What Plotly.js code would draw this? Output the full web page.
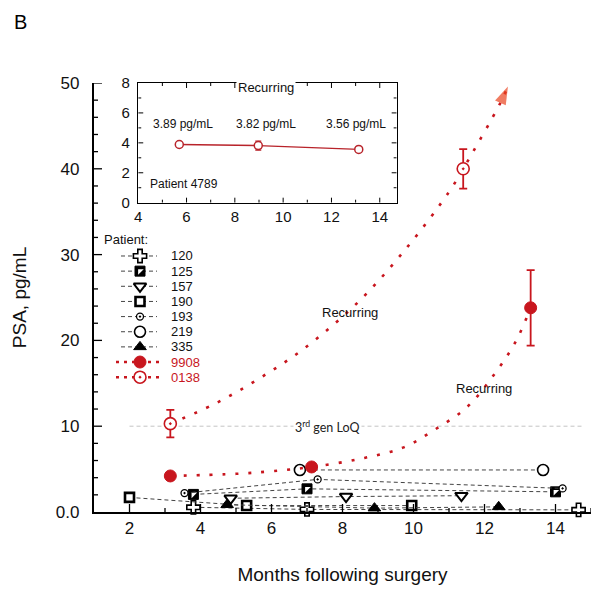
<!DOCTYPE html>
<html><head><meta charset="utf-8">
<script src="https://cdn.plot.ly/plotly-3.0.1.min.js"></script>
<style>html,body{margin:0;padding:0;background:#fff;}#chart{width:600px;height:593px;}</style>
</head><body><div id="chart"></div>
<script>
// ---------------- data ----------------
const patients = ['120', '125', '157', '190', '193', '219', '335', '9908', '0138'];

const p120_x = [3.8, 7.0, 14.65];   const p120_y = [0.55, 0.3, 0.25];
const p125_x = [3.8, 7.0, 14.0];    const p125_y = [2.05, 2.7, 2.35];
const p157_x = [4.85, 8.1, 11.35];  const p157_y = [1.6, 1.8, 1.9];
const p190_x = [2.0, 5.3, 9.95];    const p190_y = [1.7, 0.75, 0.75];
const p193_x = [3.55, 7.3, 14.2];   const p193_y = [2.2, 3.8, 2.75];
const p219_x = [6.8, 13.65];        const p219_y = [4.9, 4.9];
const p335_x = [4.75, 8.9, 12.4];   const p335_y = [0.85, 0.45, 0.6];
const p9908_x = [3.15, 7.13, 13.3]; const p9908_y = [4.2, 5.25, 23.8]; const p9908_err = [0, 0, 4.4];
const p0138_x = [3.15, 11.4];       const p0138_y = [10.3, 40.0];       const p0138_err = [1.6, 2.3];

// dotted "Recurring" trend curves
const trend9908_x = [3.15, 5.0, 6.0, 7.13, 8.5, 9.7, 10.6, 11.5, 12.25, 12.87, 13.3];
const trend9908_y = [4.2, 4.45, 4.75, 5.25, 6.2, 7.5, 9.6, 12.2, 15.9, 19.8, 23.8];
const trend0138_x = [3.15, 4.4, 5.63, 6.9, 8.45, 9.83, 11.0, 11.4, 12.45, 12.66];
const trend0138_y = [10.3, 12.6, 15.5, 19.0, 24.5, 30.9, 37.3, 40.0, 47.7, 49.6];

// inset: patient 4789
const inset_x = [5.7, 8.97, 13.13];
const inset_y = [3.89, 3.82, 3.56];
const inset_err = [0, 0.3, 0];
const inset_labels = ['3.89 pg/mL', '3.82 pg/mL', '3.56 pg/mL'];

const y_ticklabels = ['0.0', '10', '20', '30', '40', '50'];
const LoQ = 10;

// ---------------- styles ----------------
const FONT = 'Liberation Sans, Arial, Helvetica, sans-serif';
const RED = '#c8161e';
const DRED = '#b8232a';
const GREY = '#444';
const NB = '\u00a0';
const seriesX = {'120': p120_x, '125': p125_x, '157': p157_x, '190': p190_x, '193': p193_x, '219': p219_x, '335': p335_x};
const seriesY = {'120': p120_y, '125': p125_y, '157': p157_y, '190': p190_y, '193': p193_y, '219': p219_y, '335': p335_y};
const markerStyle = {
  '120': {symbol: 'cross', size: 11, color: '#fff', line: {color: '#000', width: 1.6}},
  '125': {symbol: 'square', size: 10, color: '#000', line: {color: '#000', width: 1}},
  '157': {symbol: 'triangle-down', size: 11, color: '#fff', line: {color: '#000', width: 2}},
  '190': {symbol: 'square', size: 9, color: '#fff', line: {color: '#000', width: 2.6}},
  '193': {symbol: 'circle-dot', size: 7, color: '#fff', line: {color: '#000', width: 1.3}},
  '219': {symbol: 'circle', size: 11, color: '#fff', line: {color: '#000', width: 1.6}},
  '335': {symbol: 'triangle-up', size: 11, color: '#000', line: {color: '#000', width: 1}},
  '9908': {symbol: 'circle', size: 12, color: RED, line: {color: RED, width: 1}},
  '0138': {symbol: 'circle-dot', size: 12, color: '#fff', line: {color: RED, width: 1.6}}
};
const halfMarker = {symbol: 'triangle-nw', size: 6.2, color: '#fff', line: {width: 0}};
const blackDash = {color: GREY, width: 1, dash: '4px,3px'};
const redDot = {color: RED, width: 2.6, dash: '3px,10px'};

const traces = [];
['120', '125', '157', '190', '193', '219', '335'].forEach(function (p) {
  traces.push({x: seriesX[p], y: seriesY[p], mode: 'lines+markers', line: blackDash,
    marker: markerStyle[p], cliponaxis: false, showlegend: false, hoverinfo: 'x+y', xaxis: 'x', yaxis: 'y'});
  if (p === '125') {
    traces.push({x: seriesX[p], y: seriesY[p], mode: 'markers', marker: halfMarker,
      cliponaxis: false, showlegend: false, xaxis: 'x', yaxis: 'y'});
  }
});
traces.push({x: trend9908_x, y: trend9908_y, mode: 'lines', line: Object.assign({shape: 'spline', smoothing: 1}, redDot),
  showlegend: false, hoverinfo: 'skip', xaxis: 'x', yaxis: 'y', cliponaxis: false});
traces.push({x: trend0138_x, y: trend0138_y, mode: 'lines', line: Object.assign({shape: 'spline', smoothing: 1}, redDot),
  showlegend: false, hoverinfo: 'skip', xaxis: 'x', yaxis: 'y', cliponaxis: false});
const nT = trend0138_x.length;
traces.push({x: trend0138_x.slice(nT - 2), y: trend0138_y.slice(nT - 2), mode: 'markers',
  marker: {symbol: 'arrow', size: [0, 19], angleref: 'previous', color: '#ea4520', line: {width: 0}},
  showlegend: false, hoverinfo: 'skip', xaxis: 'x', yaxis: 'y', cliponaxis: false});
traces.push({x: p9908_x, y: p9908_y, mode: 'markers', marker: markerStyle['9908'],
  error_y: {type: 'data', array: p9908_err, color: RED, thickness: 1.8, width: 4},
  showlegend: false, xaxis: 'x', yaxis: 'y', cliponaxis: false});
traces.push({x: p0138_x, y: p0138_y, mode: 'markers', marker: markerStyle['0138'],
  error_y: {type: 'data', array: p0138_err, color: RED, thickness: 1.8, width: 4},
  showlegend: false, xaxis: 'x', yaxis: 'y', cliponaxis: false});

traces.push({x: inset_x, y: inset_y, mode: 'lines+markers', line: {color: DRED, width: 1.3},
  marker: {symbol: 'circle', size: 8, color: '#fff', line: {color: DRED, width: 1.5}},
  error_y: {type: 'data', array: inset_err, color: DRED, thickness: 1.3, width: 3},
  showlegend: false, xaxis: 'x2', yaxis: 'y2', cliponaxis: false});

// ---------------- hand-drawn legend (x3/y3: pixel-like x, row index y) ----------------
const legendAnn = [];
patients.forEach(function (p, i) {
  const isRed = (p === '9908' || p === '0138');
  const row = -i;
  traces.push({x: isRed ? [116, 163] : [121, 157], y: [row, row], mode: 'lines',
    line: isRed ? {color: RED, width: 2.4, dash: '3px,5px'} : {color: GREY, width: 1, dash: '4px,3px'},
    showlegend: false, hoverinfo: 'skip', xaxis: 'x3', yaxis: 'y3'});
  traces.push({x: [140], y: [row], mode: 'markers', marker: markerStyle[p],
    showlegend: false, hoverinfo: 'skip', xaxis: 'x3', yaxis: 'y3', cliponaxis: false});
  if (p === '125') {
    traces.push({x: [140], y: [row], mode: 'markers', marker: halfMarker,
      showlegend: false, hoverinfo: 'skip', xaxis: 'x3', yaxis: 'y3', cliponaxis: false});
  }
  legendAnn.push({xref: 'x3', yref: 'y3', x: 169, y: row, text: p, showarrow: false, xanchor: 'left',
    font: {family: FONT, size: 13, color: isRed ? RED : '#111'}});
});
legendAnn.push({xref: 'x3', yref: 'y3', x: 102, y: 1.1, text: 'Patient:', showarrow: false, xanchor: 'left',
  font: {family: FONT, size: 13, color: '#111'}});

// ---------------- annotations ----------------
const annotations = [
  {xref: 'paper', yref: 'paper', x: -0.165, y: 1.142, text: 'B', showarrow: false, xanchor: 'left', yanchor: 'middle',
    font: {family: FONT, size: 20, color: '#000'}},
  {xref: 'x', yref: 'y', x: 8.2, y: 23.3, text: 'Recurring', showarrow: false, font: {family: FONT, size: 13, color: '#111'}},
  {xref: 'x', yref: 'y', x: 11.98, y: 14.4, text: 'Recurring', showarrow: false, font: {family: FONT, size: 13, color: '#111'}},
  {xref: 'x', yref: 'y', x: 7.58, y: LoQ, text: '3<sup>rd</sup> gen LoQ', showarrow: false, bgcolor: '#fff',
    font: {family: 'Lato, Open Sans, sans-serif', size: 12.5, color: '#222'}},
  {xref: 'x2', yref: 'y2', x: 9.31, y: 7.68, text: 'Recurring', showarrow: false, bgcolor: '#fff',
    font: {family: FONT, size: 13, color: '#111'}},
  {xref: 'x2', yref: 'y2', x: 5.91, y: 1.23, text: 'Patient 4789', showarrow: false,
    font: {family: FONT, size: 12, color: '#111'}}
];
inset_labels.forEach(function (t, i) {
  annotations.push({xref: 'x2', yref: 'y2', x: [5.87, 9.29, 13.03][i], y: 5.26, text: t, showarrow: false,
    font: {family: FONT, size: 12, color: '#111'}});
});

const yAlias = {};
[0, 10, 20, 30, 40, 50].forEach(function (v, i) { yAlias[String(v)] = y_ticklabels[i] + NB + NB; });
const y2Alias = {};
[0, 2, 4, 6, 8].forEach(function (v) { y2Alias[String(v)] = String(v) + NB; });

// ---------------- geometry ----------------
const W = 600, H = 593, M = {l: 94, r: 9, t: 83, b: 81};
const plotW = W - M.l - M.r, plotH = H - M.t - M.b;
const xr = [1, 15], yr = [0, 50];
const x2dom = [0.089, 0.609], y2dom = [0.721, 1.0];
const x2r = [4, 14.7], y2r = [0, 8];

// inward tick marks drawn as shapes on the axes' own scales
function range(a, b, step) { const out = []; for (let v = a; v <= b + 1e-9; v += step) out.push(Math.round(v * 1000) / 1000); return out; }
function tickShapes(xref, yref, xR, yR, xPx, yPx, xVals, yVals, mirror, width) {
  const s = [];
  const dx = (xR[1] - xR[0]) / xPx, dy = (yR[1] - yR[0]) / yPx;
  xVals.forEach(function (t) {
    s.push({type: 'line', xref: xref, yref: yref, x0: t.v, x1: t.v, y0: yR[0], y1: yR[0] + t.len * dy, layer: 'above', line: {color: '#000', width: width}});
    if (mirror) s.push({type: 'line', xref: xref, yref: yref, x0: t.v, x1: t.v, y0: yR[1], y1: yR[1] - t.len * dy, layer: 'above', line: {color: '#000', width: width}});
  });
  yVals.forEach(function (t) {
    s.push({type: 'line', xref: xref, yref: yref, y0: t.v, y1: t.v, x0: xR[0], x1: xR[0] + t.len * dx, layer: 'above', line: {color: '#000', width: width}});
    if (mirror) s.push({type: 'line', xref: xref, yref: yref, y0: t.v, y1: t.v, x0: xR[1], x1: xR[1] - t.len * dx, layer: 'above', line: {color: '#000', width: width}});
  });
  return s;
}
const mainXT = range(2, 14, 2).map(v => ({v: v, len: 8})).concat(range(3, 15, 2).map(v => ({v: v, len: 4})));
const mainYT = range(10, 50, 10).map(v => ({v: v, len: 8})).concat(range(2, 48, 2).filter(v => v % 10 !== 0).map(v => ({v: v, len: 4})));
const insXT = range(6, 14, 2).map(v => ({v: v, len: 5})).concat(range(5, 13, 2).map(v => ({v: v, len: 3})));
const insYT = range(2, 6, 2).map(v => ({v: v, len: 5})).concat(range(1, 7, 2).map(v => ({v: v, len: 3})));

const shapes = [
  {type: 'line', xref: 'x', yref: 'y', x0: 2, x1: 14.8, y0: LoQ, y1: LoQ, layer: 'below',
    line: {color: '#c4c4c4', width: 1, dash: '4px,3px'}}
].concat(
  tickShapes('x', 'y', xr, yr, plotW, plotH, mainXT, mainYT, false, 1.3),
  tickShapes('x2', 'y2', x2r, y2r, plotW * (x2dom[1] - x2dom[0]), plotH * (y2dom[1] - y2dom[0]), insXT, insYT, true, 1)
);

const layout = {
  width: W, height: H,
  margin: M,
  paper_bgcolor: '#fff', plot_bgcolor: 'rgba(0,0,0,0)',
  font: {family: FONT, color: '#111'},
  showlegend: false,
  xaxis: {
    domain: [0, 1], range: xr, anchor: 'y',
    showline: true, linecolor: '#000', linewidth: 1.8, showgrid: false, zeroline: false,
    ticks: '', tick0: 2, dtick: 2,
    tickfont: {family: FONT, size: 17, color: '#111'},
    title: {text: 'Months following surgery', font: {family: FONT, size: 19, color: '#111'}, standoff: 30}
  },
  yaxis: {
    domain: [0, 1], range: yr, anchor: 'x',
    showline: true, linecolor: '#000', linewidth: 1.8, showgrid: false, zeroline: false,
    ticks: '', tick0: 0, dtick: 10, labelalias: yAlias,
    tickfont: {family: FONT, size: 17, color: '#111'},
    title: {text: 'PSA, pg/mL', font: {family: FONT, size: 19, color: '#111'}, standoff: 24}
  },
  xaxis2: {
    domain: x2dom, range: x2r, anchor: 'y2',
    showline: true, mirror: true, linecolor: '#000', linewidth: 1.2, showgrid: false, zeroline: false,
    ticks: '', tick0: 4, dtick: 2,
    tickfont: {family: FONT, size: 15, color: '#111'}
  },
  yaxis2: {
    domain: y2dom, range: y2r, anchor: 'x2',
    showline: true, mirror: true, linecolor: '#000', linewidth: 1.2, showgrid: false, zeroline: false,
    ticks: '', tick0: 0, dtick: 2, labelalias: y2Alias,
    tickfont: {family: FONT, size: 15, color: '#111'}
  },
  xaxis3: {domain: [0, 1], range: [94, 591], anchor: 'y3', visible: false, fixedrange: true},
  yaxis3: {domain: [0, 1], range: [-16.9, 11.42], anchor: 'x3', visible: false, fixedrange: true},
  shapes: shapes,
  annotations: annotations.concat(legendAnn)
};

Plotly.newPlot('chart', traces, layout, {staticPlot: true, displayModeBar: false});
</script>
</body></html>
